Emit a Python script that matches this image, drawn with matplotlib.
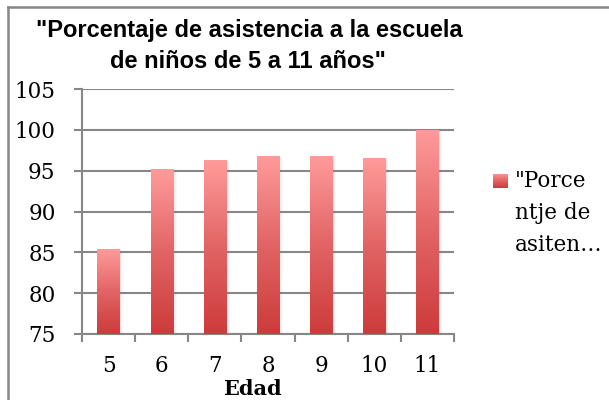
import matplotlib
matplotlib.use('Agg')
import matplotlib.pyplot as plt
import numpy as np
from matplotlib.colors import LinearSegmentedColormap
from matplotlib.lines import Line2D
from matplotlib.patches import Rectangle

# datos
edades = ['5', '6', '7', '8', '9', '10', '11']
asistencia = [85.4, 95.2, 96.3, 96.8, 96.8, 96.5, 100.0]
titulo_1 = '"Porcentaje de asistencia a la escuela'
titulo_2 = 'de niños de 5 a 11 años"'
leyenda = '"Porce\nntje de\nasiten…'
etiqueta_x = 'Edad'

GRIS = '#878787'
grad = LinearSegmentedColormap.from_list('rojo', ['#CD3B3B', '#E26464', '#FF9B9B'])
gradiente = np.linspace(0, 1, 256).reshape(-1, 1)

fig = plt.figure(figsize=(6.09, 4.0), dpi=100)
fig.patch.set_facecolor('white')
ax = fig.add_axes([82/609, 1 - 334/400, (454-82)/609, (334-89)/400])

x = np.arange(len(edades))
ymin = 75
barras = ax.bar(x, [v - ymin for v in asistencia], bottom=ymin, width=0.42,
                color='none', edgecolor='none', zorder=3)

# sombra + degradado en cada barra
for b in barras:
    bx, by, bw, bh = b.get_x(), b.get_y(), b.get_width(), b.get_height()
    for k, a in enumerate([0.10, 0.07, 0.04]):
        ax.add_patch(Rectangle((bx + bw, by), 0.025 * (k + 1), bh - 0.15 * k,
                               facecolor='#777777', alpha=a, edgecolor='none', zorder=2))
    im = ax.imshow(gradiente, cmap=grad, origin='lower', aspect='auto',
                   extent=(bx, bx + bw, by, by + bh), zorder=3, interpolation='bilinear')
    im.set_clip_path(b)

ax.set_xlim(-0.5, len(edades) - 0.5)
ax.set_ylim(75, 105)
ax.set_yticks(range(75, 106, 5))
ax.set_xticks(x)
ax.set_xticklabels(edades)
ax.set_xticks(np.arange(-0.5, len(edades), 1), minor=True)

ax.yaxis.grid(True, color=GRIS, lw=1.5, zorder=0)
ax.set_axisbelow(True)
for s in ['top', 'right']:
    ax.spines[s].set_visible(False)
for s in ['left', 'bottom']:
    ax.spines[s].set_color(GRIS)
    ax.spines[s].set_linewidth(1.5)

ax.tick_params(axis='x', which='major', length=0, pad=15)
ax.tick_params(axis='x', which='minor', length=6, width=1.5, color=GRIS)
ax.tick_params(axis='y', length=6, width=1.5, color=GRIS, pad=13)
for lab in ax.get_xticklabels() + ax.get_yticklabels():
    lab.set_fontfamily('DejaVu Serif')
    lab.set_fontsize(15.5)

fig.text(252/609, 1 - 389/400, etiqueta_x, ha='center', va='center',
         family='DejaVu Serif', fontweight='bold', fontsize=15)

# titulo
fig.text(249/609, 1 - 30/400, titulo_1, ha='center', va='center',
         family='Liberation Sans', fontweight='bold', fontsize=17)
fig.text(248/609, 1 - 62/400, titulo_2, ha='center', va='center',
         family='Liberation Sans', fontweight='bold', fontsize=17)

# leyenda
lax = fig.add_axes([493/609, 1 - 188/400, 15/609, 14/400])
lax.imshow(gradiente, cmap=grad, origin='lower', aspect='auto', interpolation='bilinear')
lax.axis('off')
fig.text(515/609, 1 - 170/400, leyenda, ha='left', va='top',
         family='DejaVu Serif', fontsize=15.5, linespacing=1.6)

# borde del grafico
fig.add_artist(Line2D([8/609, 8/609], [0, 1 - 7/400], color=GRIS, lw=1.8))
fig.add_artist(Line2D([8/609, 1], [1 - 7/400, 1 - 7/400], color=GRIS, lw=1.8))

fig.savefig('out.png', dpi=100, facecolor='white')
